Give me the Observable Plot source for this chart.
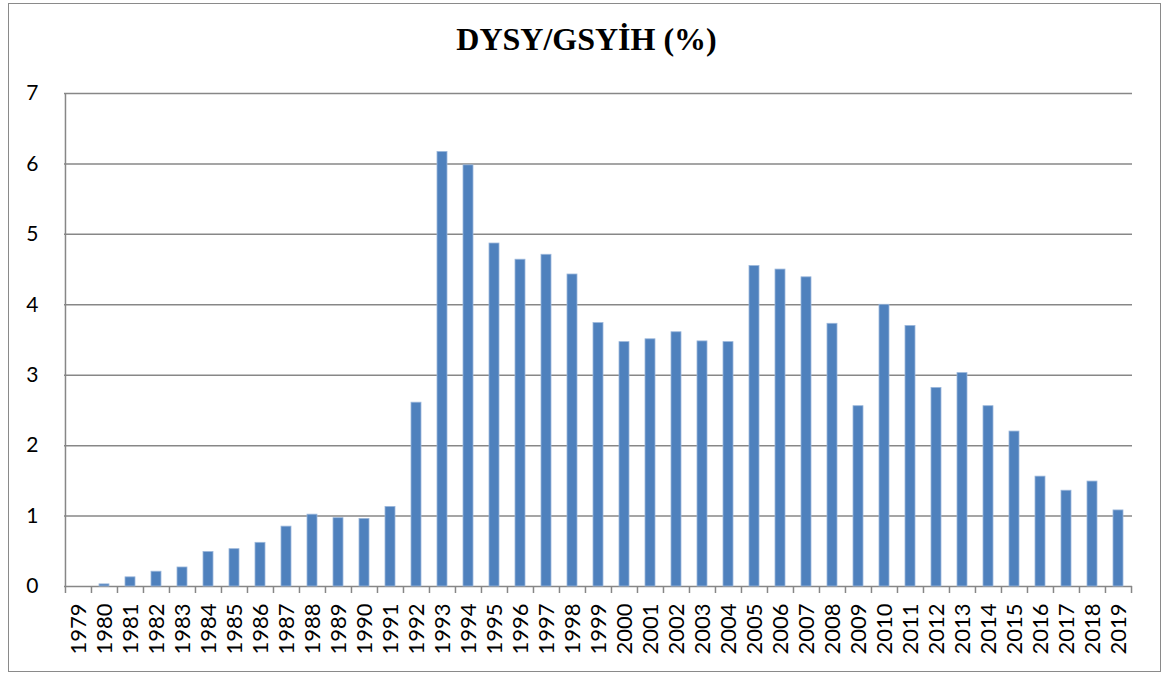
<!DOCTYPE html>
<html>
<head>
<meta charset="utf-8">
<script src="https://cdn.jsdelivr.net/npm/d3@7"></script>
<script src="https://cdn.jsdelivr.net/npm/@observablehq/plot@0.6"></script>
<style>
  html, body { margin: 0; padding: 0; background: #fff; }
  #wrap { position: relative; width: 1173px; height: 675px; overflow: hidden; }
  #frame { position: absolute; left: 8px; top: 3px; width: 1151px; height: 667px; border: 1.5px solid #8a8a8a; box-sizing: content-box; }
  #title { position: absolute; left: 0; width: 1173px; top: 19px; text-align: center;
           font-family: "Liberation Serif", "Times New Roman", serif; font-weight: bold; font-size: 32px; line-height: 40px; color: #000; }
  #chart { position: absolute; left: 0; top: 0; }
</style>
</head>
<body>
<div id="wrap">
  <div id="frame"></div>
  <div id="title">DYSY/GSYİH (%)</div>
  <div id="chart"></div>
</div>
<script>
const years = [1979,1980,1981,1982,1983,1984,1985,1986,1987,1988,1989,1990,1991,1992,1993,1994,1995,1996,1997,1998,1999,
  2000,2001,2002,2003,2004,2005,2006,2007,2008,2009,2010,2011,2012,2013,2014,2015,2016,2017,2018,2019];
const values = [0,0.03,0.13,0.21,0.27,0.49,0.53,0.62,0.85,1.02,0.97,0.96,1.13,2.61,6.17,5.98,4.87,4.64,4.71,4.43,3.74,
  3.47,3.51,3.61,3.48,3.47,4.55,4.50,4.39,3.73,2.56,4.00,3.70,2.82,3.03,2.56,2.20,1.56,1.36,1.49,1.08];
const yTicks = [0,1,2,3,4,5,6,7];

const data = years.map((y, i) => ({year: String(y), value: values[i]}));

const W = 1173, H = 675, mL = 64, mR = 41, mT = 93, mB = 89;
const step = (W - mL - mR) / years.length;
const gridColor = "#878787";

const plot = Plot.plot({
  width: W,
  height: H,
  marginLeft: mL,
  marginRight: mR,
  marginTop: mT,
  marginBottom: mB,
  style: {fontFamily: "Lato, 'Open Sans', sans-serif", background: "transparent", color: "#000"},
  x: {domain: years.map(String), paddingInner: 0.6, paddingOuter: 0.3, label: null},
  y: {domain: [0, 7], label: null},
  marks: [
    Plot.ruleY(yTicks, {stroke: gridColor, strokeWidth: 1.5}),
    Plot.barY(data, {x: "year", y: "value", fill: "#4F81BD", stroke: "#9bb7db", strokeWidth: 0.8}),
    Plot.ruleX([0], {x: () => years[0].toString(), dx: -step / 2, y1: 0, y2: 7, stroke: gridColor, strokeWidth: 1.5}),
    Plot.ruleX(years.map(String), {dx: -step / 2, y1: 0, y2: 0, insetBottom: -7, stroke: gridColor, strokeWidth: 1.5}),
    Plot.ruleX([years[years.length - 1]].map(String), {dx: step / 2, y1: 0, y2: 0, insetBottom: -7, stroke: gridColor, strokeWidth: 1.5}),
    Plot.ruleY(yTicks, {x1: years[0].toString(), x2: years[0].toString(), dx: -step / 2, insetLeft: -8, stroke: gridColor, strokeWidth: 1.5}),
    Plot.axisY(yTicks, {tickSize: 0, tickPadding: 26, fontSize: 21, tickFormat: d => String(d)}),
    Plot.axisX({tickSize: 0, tickPadding: 17, tickRotate: -90, fontSize: 22})
  ]
});
document.getElementById("chart").appendChild(plot);
</script>
</body>
</html>
